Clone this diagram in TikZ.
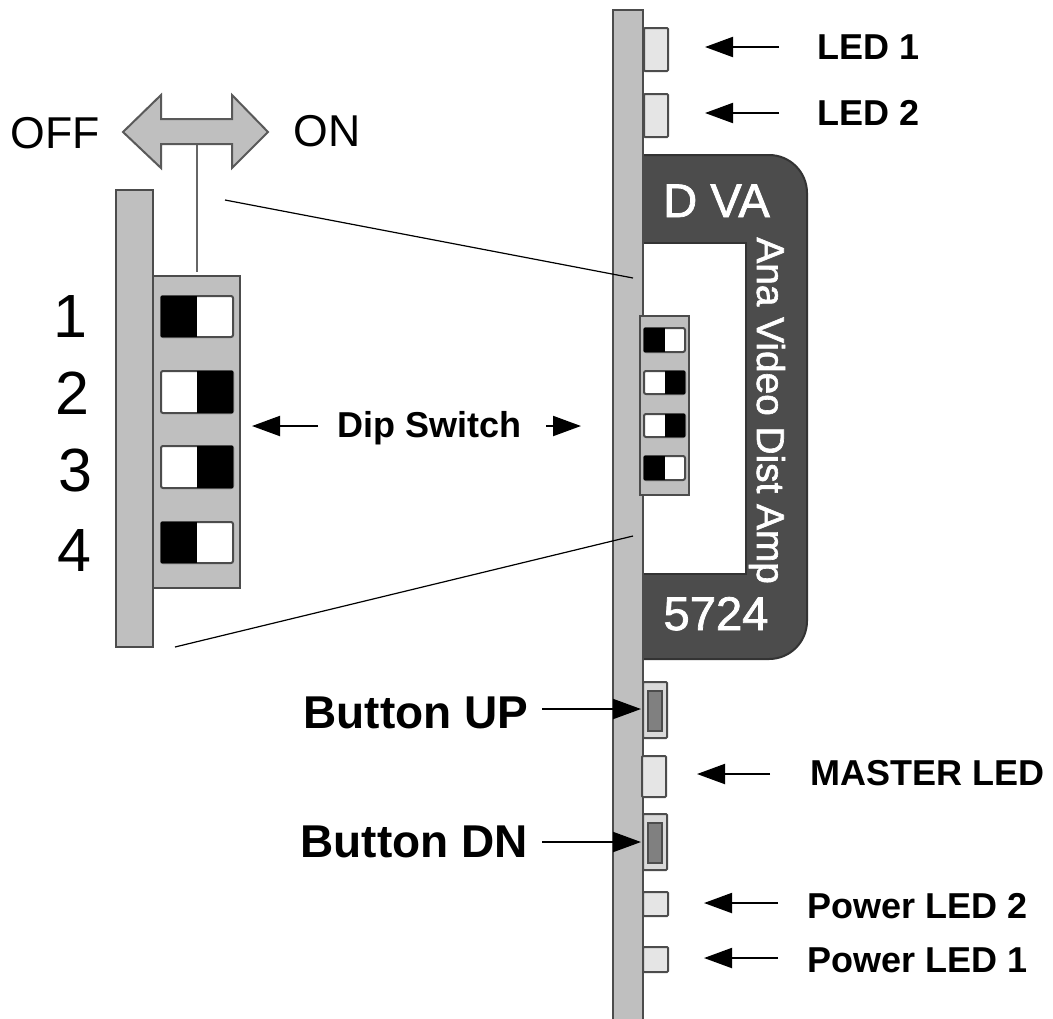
\documentclass[tikz,border=0pt]{standalone}
\usepackage{fontspec}
\setmainfont{Liberation Sans}
\newfontfamily\cardfont[FakeBold=1.6]{Liberation Sans}
\usetikzlibrary{arrows.meta}
\tikzset{pcb/.style={draw=black!70,fill=black!25,line width=1pt}}
\tikzset{led/.style={draw=black!70,fill=black!10,line width=1pt,rounded corners=0.5pt}}
\tikzset{btnin/.style={draw=black!70,fill=black!50,line width=1pt}}
\tikzset{sw/.style={draw=black!70,fill=white,line width=1pt,rounded corners=1pt}}
\tikzset{callout/.style={-{Triangle[length=14pt,width=10pt]},line width=1pt}}
\tikzset{zoomline/.style={line width=0.6pt}}
\newcommand{\pxfont}[1]{\fontsize{#1}{#1}\selectfont}
\tikzset{lbl/.style={inner sep=0pt,anchor=base west,font=\pxfont{18}\bfseries}}
\tikzset{lblbig/.style={inner sep=0pt,anchor=base west,font=\pxfont{23}\bfseries}}
\tikzset{dirlbl/.style={inner sep=0pt,anchor=base west,font=\pxfont{22.3}}}
\tikzset{digit/.style={inner sep=0pt,anchor=base,font=\pxfont{30.5}}}
\tikzset{cardlbl/.style={inner sep=0pt,text=white,font=\cardfont\pxfont{23.6}}}
\begin{document}
\begin{tikzpicture}[x=0.5pt,y=-0.5pt]
    \useasboundingbox (0,0) rectangle (1053,1018);

    % Card handle
    \draw[draw=black!80,fill=black!70,line width=1pt] (630,155) [rounded corners=19pt] -- (807,155) -- (807,659) -- (700,659) [sharp corners] -- (630,659) -- cycle;
    \draw[draw=black!80,fill=white,line width=1pt] (630,243) rectangle (746,574);

    % Board edge
    \draw[pcb] (613,10) rectangle (643,1020);

    % Top LEDs
    \draw[led] (644,28) rectangle (668,71);
    \draw[led] (644,94) rectangle (668,137);

    % Dip switch on the board
    \draw[pcb,line width=0.8pt] (640,316) rectangle (689,495);
    \draw[sw] (644,328) rectangle (685,352);
    \fill (644,328) rectangle (665,352);
    \draw[sw] (644,371) rectangle (685,394);
    \fill (665,371) rectangle (685,394);
    \draw[sw] (644,414) rectangle (685,437);
    \fill (665,414) rectangle (685,437);
    \draw[sw] (644,456) rectangle (685,480);
    \fill (644,456) rectangle (665,480);

    % Buttons and lower LEDs
    \draw[led,fill=black!15] (643,682) rectangle (667,738);
    \draw[btnin] (648,691) rectangle (662,731);
    \draw[led] (642,756) rectangle (666,797);
    \draw[led,fill=black!15] (643,814) rectangle (667,870);
    \draw[btnin] (648,823) rectangle (662,863);
    \draw[led] (643,892) rectangle (668,916);
    \draw[led] (643,947) rectangle (668,972);

    % Card text
    \node[cardlbl,anchor=base] (dva) at (716.5,217) {D VA};
    \node[cardlbl,anchor=base] (num) at (716,630) {5724};
    \node[cardlbl,font=\cardfont\pxfont{19.4},rotate=-90,anchor=base west] (ana) at (757,237) {Ana Video Dist Amp};

    % Enlarged switch
    \draw[pcb] (116,190) rectangle (153,647);
    \draw[pcb] (153,276) rectangle (240,588);
    \draw[sw] (161,296) rectangle (233,337);
    \fill (161,296) rectangle (197,337);
    \draw[sw] (161,371) rectangle (233,413);
    \fill (197,371) rectangle (233,413);
    \draw[sw] (161,446) rectangle (233,488);
    \fill (197,446) rectangle (233,488);
    \draw[sw] (161,522) rectangle (233,563);
    \fill (161,522) rectangle (197,563);

    % Direction arrow
    \coordinate (stemtop) at (197,145);
    \coordinate (stembot) at (197,272);
    \draw[draw=black!60,line width=1pt] (stemtop) -- (stembot);
    \draw[pcb,draw=black!65] (123,132) -- (161,95) -- (161,119) -- (232,119) -- (232,95) -- (268,132) -- (232,168) -- (232,144) -- (161,144) -- (161,168) -- cycle;
    \node[dirlbl] (off) at (10,148) {OFF};
    \node[dirlbl] (on) at (293,146) {ON};

    % Digits
    \node[digit] (one) at (70,337) {1};
    \node[digit] (two) at (72,414) {2};
    \node[digit] (three) at (75,491) {3};
    \node[digit] (four) at (74,571) {4};

    % Guide
    \coordinate (zoomAa) at (225,200);
    \coordinate (zoomAb) at (633,278);
    \coordinate (zoomBa) at (175,647);
    \coordinate (zoomBb) at (633,536);
    \draw[zoomline] (zoomAa) -- (zoomAb);
    \draw[zoomline] (zoomBa) -- (zoomBb);

    % Labels
    \node[lbl] (ledone) at (817,59) {LED 1};
    \node[lbl] (ledtwo) at (817,125) {LED 2};
    \node[lbl] (dip) at (337,437) {Dip Switch};
    \node[lblbig] (btnup) at (303,728) {Button UP};
    \node[lblbig] (btndn) at (300,857) {Button DN};
    \node[lbl] (master) at (810,785) {MASTER LED};
    \node[lbl] (pwrtwo) at (807,918) {Power LED 2};
    \node[lbl] (pwrone) at (807,972) {Power LED 1};

    % Callouts
    \coordinate (ledonea) at (779,47);
    \coordinate (ledoneb) at (705,47);
    \coordinate (ledtwoa) at (779,113);
    \coordinate (ledtwob) at (705,113);
    \coordinate (dipla) at (318,426);
    \coordinate (diplb) at (252,426);
    \coordinate (dipra) at (546,426);
    \coordinate (diprb) at (581,426);
    \coordinate (btnupa) at (542,709);
    \coordinate (btnupb) at (641,709);
    \coordinate (btndna) at (542,842);
    \coordinate (btndnb) at (641,842);
    \coordinate (mastera) at (770,774);
    \coordinate (masterb) at (697,774);
    \coordinate (pwrtwoa) at (778,903);
    \coordinate (pwrtwob) at (704,903);
    \coordinate (pwronea) at (778,958);
    \coordinate (pwroneb) at (704,958);
    \draw[callout] (ledonea) -- (ledoneb);
    \draw[callout] (ledtwoa) -- (ledtwob);
    \draw[callout] (dipla) -- (diplb);
    \draw[callout] (dipra) -- (diprb);
    \draw[callout] (btnupa) -- (btnupb);
    \draw[callout] (btndna) -- (btndnb);
    \draw[callout] (mastera) -- (masterb);
    \draw[callout] (pwrtwoa) -- (pwrtwob);
    \draw[callout] (pwronea) -- (pwroneb);
\end{tikzpicture}
\end{document}
